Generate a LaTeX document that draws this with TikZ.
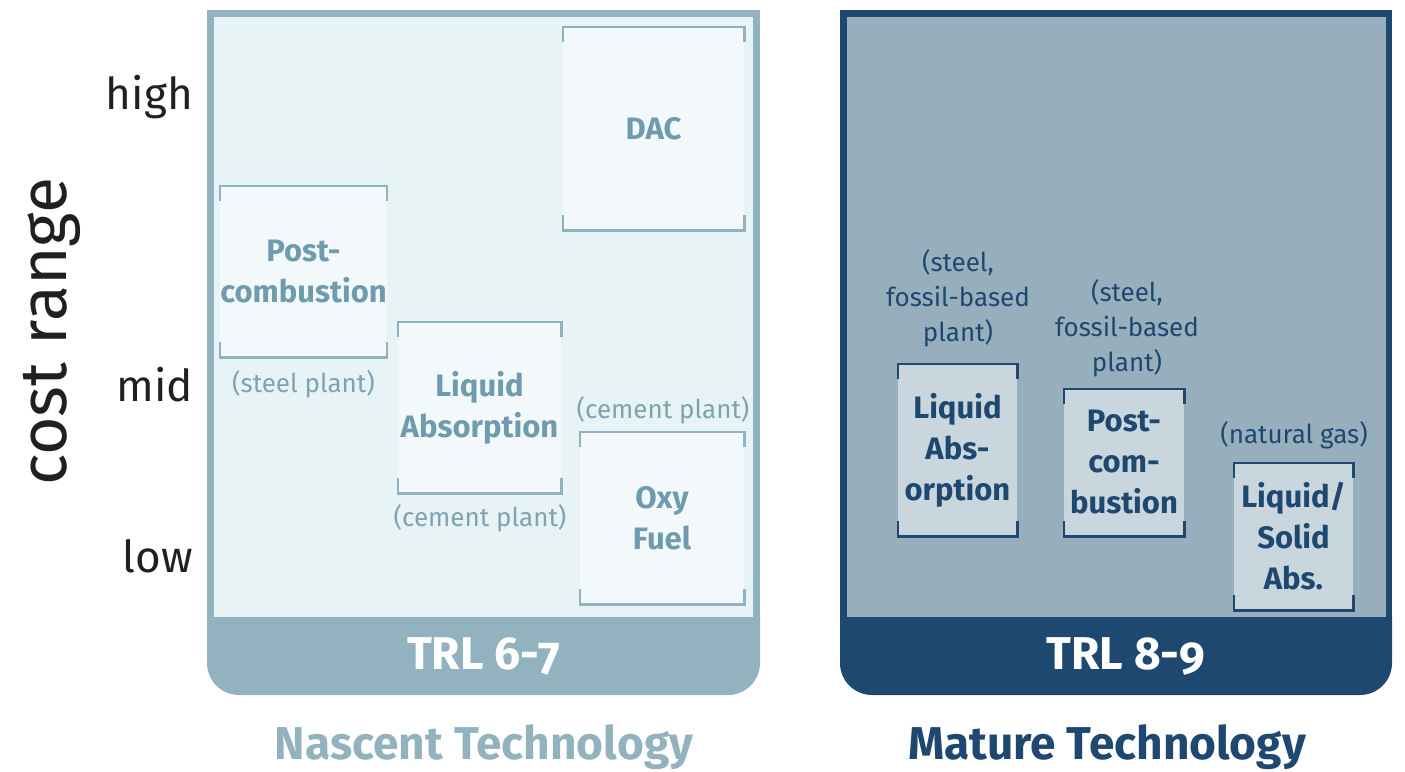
\documentclass[tikz,border=0pt]{standalone}
\usepackage{fontspec}
\setmainfont{Fira Sans}
\newfontfamily\trlfont[Numbers=OldStyle]{Fira Sans}
\definecolor{nascent}{HTML}{93B2BF}
\definecolor{nascentbg}{HTML}{E7F3F4}
\definecolor{nascentbox}{HTML}{F3F9FA}
\definecolor{nascenttxt}{HTML}{6F9BAF}
\definecolor{nascentnote}{HTML}{7FA3B3}
\definecolor{mature}{HTML}{1F4870}
\definecolor{maturebg}{HTML}{97AEBD}
\definecolor{maturebox}{HTML}{C9D6DE}
\definecolor{axistxt}{HTML}{231F20}
\tikzset{
  nbox/.style={fill=nascentbox,text=nascenttxt,inner sep=0pt,align=center,
    font=\fontsize{31}{41}\selectfont\bfseries},
  mbox/.style={fill=maturebox,text=mature,inner sep=0pt,align=center,
    font=\fontsize{31}{41}\selectfont\bfseries},
  note/.style={inner sep=0pt,align=center,font=\fontsize{26}{35}\selectfont},
  lvl/.style={anchor=east,inner sep=0pt,text=axistxt,font=\fontsize{44}{50}\selectfont},
  trl/.style={text=white,inner sep=0pt,font=\fontsize{46}{50}\selectfont\bfseries\trlfont},
  title/.style={inner sep=0pt,font=\fontsize{46}{50}\selectfont\bfseries}
}
\newcommand{\brackets}[2]{%
  \draw[#2,line width=2.6pt] ([yshift=-15pt]#1.north west) -- (#1.north west)
    -- (#1.north east) -- ([yshift=-15pt]#1.north east);
  \draw[#2,line width=2.6pt] ([yshift=15pt]#1.south west) -- (#1.south west)
    -- (#1.south east) -- ([yshift=15pt]#1.south east);}
\begin{document}
\begin{tikzpicture}[x=1pt,y=-1pt]
  \useasboundingbox (0,0) rectangle (1405,771);
  % axis
  \node[rotate=90,inner sep=0pt,text=axistxt,font=\fontsize{66}{70}\selectfont] (cost) at (52,332) {cost range};
  \node[lvl] (high) at (193,97) {high};
  \node[lvl] (mid) at (193,385) {mid};
  \node[lvl] (low) at (193,556) {low};
  % nascent panel
  \fill[nascentbg] (207,10) rectangle (760,640);
  \draw[nascent,line width=7pt] (210.5,640) -- (210.5,13.5) -- (756.5,13.5) -- (756.5,640);
  \fill[nascent] (207,617) -- (760,617) [rounded corners=32pt] -- (760,695) -- (207,695) [sharp corners] -- cycle;
  \node[trl] (trl67) at (483.5,656) {TRL 6-7};
  \node[nbox,minimum width=181pt,minimum height=203pt] (dac) at (653.5,128.5) {DAC};
  \node[nbox,minimum width=165pt,minimum height=171pt] (postn) at (303.5,271.5) {Post-\\combustion};
  \node[nbox,minimum width=163pt,minimum height=171pt] (liqn) at (479.5,407.5) {Liquid\\Absorption};
  \node[nbox,minimum width=164pt,minimum height=172pt] (oxy) at (662,518) {Oxy\\Fuel};
  \foreach \b in {dac,postn,liqn,oxy} {\brackets{\b}{nascent}}
  \node[note,text=nascentnote] (steeln) at (303.5,384) {(steel plant)};
  \node[note,text=nascentnote] (cemliq) at (480,518) {(cement plant)};
  \node[note,text=nascentnote] (cemoxy) at (663,410) {(cement plant)};
  \node[title,text=nascent] (nascentT) at (484,747) {Nascent Technology};
  % mature panel
  \fill[maturebg] (840,10) rectangle (1392,640);
  \draw[mature,line width=6.5pt] (843.25,640) -- (843.25,13.25) -- (1388.75,13.25) -- (1388.75,640);
  \fill[mature] (840,617) -- (1392,617) [rounded corners=32pt] -- (1392,695) -- (840,695) [sharp corners] -- cycle;
  \node[trl] (trl89) at (1126,656) {TRL 8-9};
  \node[mbox,minimum width=119pt,minimum height=172pt] (liqm) at (957.5,450) {Liquid\\Abs-\\orption};
  \node[mbox,minimum width=120pt,minimum height=147pt] (postm) at (1124,462.5) {Post-\\com-\\bustion};
  \node[mbox,minimum width=119pt,minimum height=147pt] (solid) at (1293.5,536.5) {Liquid/\\Solid\\Abs.};
  \foreach \b in {liqm,postm,solid} {\brackets{\b}{mature}}
  \node[note,text=mature] (steelm1) at (958,298) {(steel,\\fossil-based\\plant)};
  \node[note,text=mature] (steelm2) at (1127,328) {(steel,\\fossil-based\\plant)};
  \node[note,text=mature] (gas) at (1294,435) {(natural gas)};
  \node[title,text=mature] (matureT) at (1107,747) {Mature Technology};
\end{tikzpicture}
\end{document}
